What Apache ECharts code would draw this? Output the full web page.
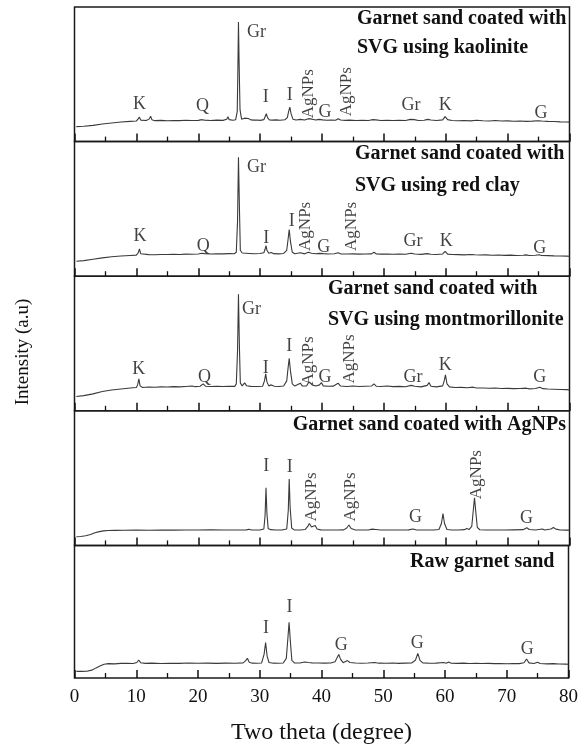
<!DOCTYPE html>
<html>
<head>
<meta charset="utf-8">
<script src="https://cdn.jsdelivr.net/npm/echarts@6/dist/echarts.min.js"></script>
<style>html,body{margin:0;padding:0;background:#fff;}#c{width:581px;height:746px;}</style>
</head>
<body>
<div id="c"></div>
<script>
// ---- DATA ----
const xMin = 0, xMax = 80, xStep = 10;
const xAxisName = 'Two theta (degree)';
const yAxisName = 'Intensity (a.u)';

const kaoliniteXRD = [[0.3,15],[1.5,15.4],[3,16.3],[4.5,17.6],[6,18.7],[7.5,19.6],[9,20.3],[10,20.6],[10.3,22.5],[10.5,24.5],[10.7,21.5],[11,20.9],[11.6,21.1],[12.1,22.8],[12.3,25.5],[12.5,22],[13,21],[14,21.3],[15,20.9],[16,21.2],[17,21],[18,21.4],[19,21.1],[20,21.3],[20.6,22],[20.8,22.8],[21,21.5],[22,21.2],[23,21.5],[24,21.3],[24.6,22.5],[24.8,25],[25,22],[25.6,21.4],[26.05,22],[26.3,30],[26.4,70],[26.5,120],[26.6,80],[26.75,32],[27,22.5],[27.5,23.5],[27.8,22.4],[28.1,23.2],[28.5,21.8],[29,21.5],[29.5,21.7],[30,21.3],[30.6,22],[30.8,25],[31,28],[31.2,24],[31.5,21.8],[32,21.5],[32.6,21.8],[33.2,21.4],[34,21.9],[34.4,24],[34.6,30],[34.8,34.5],[35,28],[35.3,22.5],[35.8,21.7],[36.5,22.3],[37.2,21.6],[37.8,23],[38.1,24.5],[38.4,22.5],[39,21.6],[39.5,22.3],[39.8,23.3],[40.1,21.8],[40.8,21.4],[41.5,21.7],[42.2,21.4],[42.6,23],[43,21.6],[43.8,21.3],[44.5,21.5],[45.5,21.2],[46.5,21.4],[47.5,21.1],[48.1,22],[48.4,23.5],[48.7,21.8],[49.5,21.2],[50.5,21.4],[51.5,21.1],[52.5,21.3],[53.5,21.1],[54.3,22.3],[54.6,23.8],[54.9,22],[55.6,21.2],[56.5,21.4],[57.1,22.3],[57.3,23.4],[57.6,21.7],[58.5,21.2],[59.5,21.8],[59.9,25],[60.3,22],[61,21.2],[62,20.9],[63,21.2],[64,20.8],[65,21.4],[66,20.9],[67,20.7],[68,21.2],[69,20.6],[70,20.8],[71,20.4],[72,20.6],[73,20.3],[74,20.5],[74.9,20.9],[75.2,21.6],[75.5,20.6],[76.5,20.3],[77.5,20.1],[78.5,19.8],[79.5,19.6],[80,19.5]];

const redClayXRD = [[0.3,15],[1.5,15.6],[3,17],[4.5,18.4],[6,19.5],[7.5,20.3],[9,20.8],[10,21.1],[10.3,23.5],[10.5,27.4],[10.7,22.5],[11,21.4],[12,21.6],[13,21.5],[14,21.8],[15,21.7],[16,22],[17,21.8],[18,22.1],[19,22],[20,22.3],[20.6,23],[20.8,24],[21,22.6],[22,22.3],[23,22.5],[24,22.4],[25,22.6],[25.8,22.5],[26.15,24],[26.35,55],[26.5,119.4],[26.65,70],[26.8,26],[27.1,23.2],[27.4,24],[27.7,23],[28,24],[28.3,22.8],[29,22.5],[30,22.7],[30.6,23.5],[30.8,27],[30.95,30.7],[31.1,26],[31.4,23],[31.8,23.8],[32.2,22.6],[33,22.4],[33.8,22.8],[34.3,26],[34.5,36],[34.7,46.7],[34.9,35],[35.2,24],[35.6,22.6],[36.5,23.6],[37.2,22.4],[37.8,24],[38.05,25.7],[38.3,23],[39,22.5],[39.6,22.9],[39.9,23.6],[40.2,22.6],[41,22.3],[42,22.5],[42.6,23.5],[43,22.4],[44,22.2],[45,22.4],[46,22.1],[47,22.3],[48,22.4],[48.4,24],[48.8,22.3],[49.5,22.1],[50.5,22.3],[51.5,22],[52.5,22.2],[53.5,22],[54.4,23],[54.7,23.5],[55,22.2],[56,21.9],[57,22.6],[57.3,23.4],[57.6,22],[58.5,21.8],[59.5,22.3],[59.9,25],[60.3,22.1],[61,21.7],[62,21.6],[63,21.4],[64,21.8],[64.3,22.3],[64.7,21.5],[65.5,21.2],[66.5,21.4],[67.5,21],[68.5,21.2],[69.5,20.9],[70.5,21.1],[71.5,20.8],[72.5,21],[73,21.4],[73.5,20.8],[74.5,21],[75.1,21.5],[75.5,20.7],[76.5,20.6],[77.5,20.4],[78.5,20.3],[79.5,20.1],[80,20]];

const montXRD = [[0.3,14.3],[1.5,15.2],[3,17],[4.5,19.3],[6,20.8],[7.5,21.9],[9,22.8],[10,23.3],[10.2,26],[10.4,32],[10.6,25],[11,23.4],[12,23.8],[13,23.6],[14,24],[15,23.8],[16,24.2],[17,24],[18,24.4],[19,24.8],[19.5,24.2],[20.3,24.6],[20.8,27],[21.2,24.6],[22,24.3],[23,24.5],[24,24.3],[25,24.6],[25.9,24.5],[26.15,27],[26.35,60],[26.5,117],[26.65,65],[26.8,28],[27.1,25],[27.5,28],[27.8,25.2],[28.5,24.5],[29.5,24.3],[30.4,24.6],[30.7,30],[30.9,37],[31.1,29],[31.4,25],[31.8,26],[32.3,24.6],[33,24.4],[33.8,24.8],[34.3,30],[34.5,42],[34.7,52.7],[34.9,40],[35.2,27],[35.6,24.8],[36.5,27.7],[36.8,25],[37.5,24.8],[37.9,29],[38.1,31],[38.4,26],[39,24.9],[39.6,26],[39.9,28.3],[40.2,25],[41,24.6],[41.8,24.7],[42.6,27.7],[43,24.8],[44,24.4],[45,24.8],[46,24.3],[47,24.6],[48,24.8],[48.4,27],[48.8,24.6],[49.5,24.3],[50.5,24.8],[51.5,24.2],[52.5,24.5],[53.5,24.1],[54.4,25.5],[54.7,27],[55,24.6],[56,24],[57,25.5],[57.3,28.3],[57.6,24.6],[58.5,24],[59.5,25],[59.75,30],[59.95,36],[60.2,27],[60.6,24],[61.5,23.4],[62.5,23.5],[63.5,23.1],[64.4,23.7],[65,22.8],[66,22.9],[67,22.6],[68,22.8],[69,22.3],[70,22.5],[71,22.2],[72,22.4],[73,22.7],[73.5,22],[74.5,22.3],[75.2,23.7],[75.7,22.2],[76.5,21.8],[77.5,21.6],[78.5,21.4],[79.5,21.2],[80,21]];

const agnpXRD = [[0.3,8.7],[1,8.9],[1.8,9.6],[2.6,11],[3.3,12.6],[4,13.8],[4.7,14.6],[5.5,15],[6.5,15.1],[8,15.2],[10,15.3],[12,15.2],[14,15.4],[16,15.3],[18,15.5],[20,15.4],[22,15.6],[24,15.4],[26,15.5],[27.8,15.6],[28.2,16.2],[28.6,15.5],[30,15.5],[30.6,16.5],[30.8,30],[30.95,57.7],[31.1,32],[31.3,17],[31.7,15.8],[32.5,15.5],[33.5,15.4],[34.3,16.5],[34.55,35],[34.7,66.7],[34.85,38],[35.1,17.5],[35.5,15.6],[36.5,15.5],[37.3,16],[37.7,19],[37.95,22],[38.3,18.5],[38.6,19.5],[38.9,20],[39.2,16.5],[39.8,15.6],[40.5,15.5],[41.5,15.4],[42.5,15.5],[43.5,15.6],[44,17.5],[44.35,20.5],[44.7,17],[45.3,15.6],[46.5,15.4],[47.5,15.5],[48.1,16.3],[48.4,17.7],[48.7,16],[49.5,15.4],[51,15.5],[52.5,15.4],[54,15.6],[54.7,16.5],[55.3,15.5],[56.5,15.4],[58,15.5],[58.9,16],[59.3,22],[59.55,32],[59.8,22],[60.2,16],[61,15.4],[62,15.5],[63,15.8],[63.4,17],[63.8,16],[64.2,19],[64.45,35],[64.65,47.7],[64.85,34],[65.1,18],[65.5,15.7],[66.5,15.4],[68,15.5],[69.5,15.4],[71,15.6],[72.5,15.8],[73.1,17.7],[73.5,15.9],[74.5,15.5],[75.6,16.5],[76,15.4],[77,16.4],[77.4,18],[77.8,16.3],[78.5,15.5],[79.5,15.3],[80,15.3]];

const rawXRD = [[0.3,6.7],[1,6.7],[2,6.8],[2.8,8],[3.5,10.3],[4.2,12.5],[4.8,14],[5.5,14.6],[6.5,14.4],[7.5,14.9],[8.5,15],[9.5,14.8],[10.1,15.8],[10.4,18.3],[10.7,15.6],[11.5,14.9],[12.5,15.1],[14,14.8],[15.5,15],[17,14.9],[18.5,15.2],[20,15],[21.5,15.1],[23,14.9],[24.5,15.1],[26,15],[27.3,15.4],[27.7,17.5],[28,20],[28.3,16],[28.8,15.1],[29.5,15],[30.3,15.3],[30.7,24],[30.95,36],[31.2,22],[31.5,15.8],[32.2,15.1],[33,15],[33.8,15.3],[34.3,20],[34.55,40],[34.75,56.7],[34.95,38],[35.2,18],[35.6,15.4],[36.5,15.2],[37.3,16.3],[37.6,16.7],[37.9,15.8],[38.2,16.5],[38.5,15.4],[39.5,15.3],[40.5,15.1],[41.5,15.3],[42.2,16.5],[42.55,21],[42.8,24],[43.1,19],[43.5,15.6],[44.2,17.7],[44.6,15.8],[45.5,15.2],[46.5,15],[47.5,15.2],[48.6,15.8],[49.3,15.1],[50.5,15],[51.5,15.2],[52.5,14.9],[53.5,15.1],[54.6,15.3],[55.2,18],[55.6,25],[55.95,18],[56.4,15.4],[57.5,15],[58.5,15.1],[59.8,15.8],[60.2,15.1],[60.6,16.2],[61,15],[62,14.9],[63,15.1],[64,14.8],[65,15],[66,14.7],[67,14.9],[68,14.6],[69,14.8],[70,14.5],[71,14.7],[72,14.6],[72.8,15.5],[73.2,19.3],[73.6,15.4],[74.4,14.8],[75,16],[75.4,14.7],[76.5,14.4],[77.5,14.6],[78.5,14.2],[79.5,14.1],[80,14]];

// peak annotations: [two theta, intensity, text, rotation]
const kaoliniteLabels = [[10.5,37,'K'],[20.7,35,'Q'],[29.4,110,'Gr'],[30.9,44,'I'],[34.8,46,'I'],[37.9,48,'AgNPs',90],[40.5,29,'G'],[44,50,'AgNPs',90],[54.4,36,'Gr'],[59.9,36,'K'],[75.4,28,'G']];
const redClayLabels = [[10.6,40,'K'],[20.8,30,'Q'],[29.4,109,'Gr'],[31.0,38,'I'],[35.1,55,'I'],[37.4,50,'AgNPs',90],[40.3,29,'G'],[44.8,50,'AgNPs',90],[54.7,35,'Gr'],[60.1,35,'K'],[75.2,28,'G']];
const montLabels = [[10.4,42,'K'],[21,34,'Q'],[28.6,102,'Gr'],[30.9,43,'I'],[34.7,65,'I'],[37.9,50,'AgNPs',90],[40.5,34,'G'],[44.5,52,'AgNPs',90],[54.7,34,'Gr'],[59.9,46,'K'],[75.2,34,'G']];
const agnpLabels = [[31.0,79,'I'],[34.8,78,'I'],[38.3,48.5,'AgNPs',90],[44.6,48.5,'AgNPs',90],[55.1,28,'G'],[65,71,'AgNPs',90],[73.05,27,'G']];
const rawLabels = [[31.0,51,'I'],[34.8,72,'I'],[43.2,33,'G'],[55.5,35,'G'],[73.3,29,'G']];

const panelTitles = [
  ['Garnet sand coated with', 'SVG using kaolinite'],
  ['Garnet sand coated with', 'SVG using red clay'],
  ['Garnet sand coated with', 'SVG using montmorillonite'],
  ['Garnet sand coated with AgNPs'],
  ['Raw garnet sand']
];

// ---- LAYOUT ----
const series = [kaoliniteXRD, redClayXRD, montXRD, agnpXRD, rawXRD];
const labels = [kaoliniteLabels, redClayLabels, montLabels, agnpLabels, rawLabels];
const panelTop = 7, panelH = 134.6, gridLeft = 74.5, gridRight = 11.5;
const yMax = 135;
const titlePos = [
  {x: 357, y: [19, 48], align: 'left'},
  {x: 355, y: [154, 186], align: 'left'},
  {x: 328, y: [289, 320], align: 'left'},
  {x: 566, y: [425], align: 'right'},
  {x: 410, y: [562], align: 'left'}
];
const serif = 'Liberation Serif';
const ink = '#111';

const grids = [], xAxes = [], yAxes = [], seriesList = [], graphics = [];
for (let i = 0; i < 5; i++) {
  const last = i === 4;
  grids.push({left: gridLeft, right: gridRight, top: panelTop + i * panelH, height: panelH,
    show: true, borderColor: '#1a1a1a', borderWidth: 1.5, backgroundColor: 'transparent'});
  xAxes.push({type: 'value', gridIndex: i, min: xMin, max: xMax, interval: xStep,
    axisLine: {show: false},
    axisTick: {show: true, inside: true, length: 8, lineStyle: {color: ink, width: 1.5}},
    minorTick: {show: true, splitNumber: 2, length: 5, lineStyle: {color: ink, width: 1.3}},
    splitLine: {show: false}, minorSplitLine: {show: false},
    axisLabel: {show: last, color: ink, fontFamily: serif, fontSize: 19, margin: 10},
    name: last ? xAxisName : '', nameLocation: 'middle', nameGap: 43,
    nameTextStyle: {color: ink, fontFamily: serif, fontSize: 24}
  });
  yAxes.push({type: 'value', gridIndex: i, min: 0, max: yMax, show: false});
  seriesList.push({type: 'line', xAxisIndex: i, yAxisIndex: i, data: series[i],
    showSymbol: false, symbol: 'none', silent: true,
    lineStyle: {color: '#3a3a3a', width: 1.1}});
  seriesList.push({type: 'scatter', xAxisIndex: i, yAxisIndex: i, symbolSize: 1, silent: true,
    itemStyle: {color: 'rgba(0,0,0,0)'},
    data: labels[i].map(a => ({value: [a[0], a[1], a[2]],
      label: a[3] ? {rotate: a[3], fontSize: 17} : {}})),
    label: {show: true, position: 'inside', formatter: p => p.value[2],
      color: ink, fontFamily: serif, fontSize: 18}
  });
  const tp = titlePos[i];
  panelTitles[i].forEach((t, k) => {
    graphics.push({type: 'text', x: tp.x, y: tp.y[k], silent: true,
      style: {text: t, font: 'bold 20px "Liberation Serif"', fill: ink,
        textAlign: tp.align, textVerticalAlign: 'middle'}});
  });
}
graphics.push({type: 'text', x: 23, y: 352, rotation: Math.PI / 2, silent: true,
  style: {text: yAxisName, font: '19px "Liberation Serif"', fill: ink,
    textAlign: 'center', textVerticalAlign: 'middle'}});

const chart = echarts.init(document.getElementById('c'), null, {renderer: 'canvas'});
chart.setOption({
  animation: false,
  backgroundColor: '#fff',
  grid: grids, xAxis: xAxes, yAxis: yAxes, series: seriesList, graphic: graphics
});
</script>
</body>
</html>
